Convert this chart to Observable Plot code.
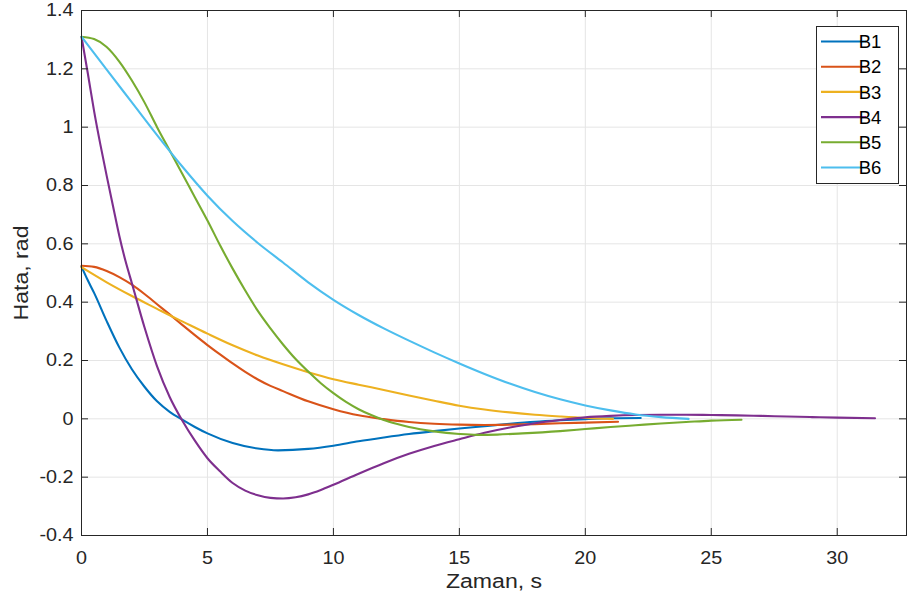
<!DOCTYPE html>
<html>
<head>
<meta charset="utf-8">
<script src="https://cdn.jsdelivr.net/npm/d3@7"></script>
<script src="https://cdn.jsdelivr.net/npm/@observablehq/plot@0.6"></script>
<style>
  html, body { margin: 0; padding: 0; background: #fff; }
  #chart { width: 907px; height: 608px; }
</style>
</head>
<body>
<div id="chart"></div>
<script>
// ---- data ----
const seriesNames = ["B1", "B2", "B3", "B4", "B5", "B6"];
const seriesColors = ["#0072BD", "#D95319", "#EDB120", "#7E2F8E", "#77AC30", "#4DBEEE"];

const b1T = [0, 0.25, 0.5, 1, 1.5, 2, 2.5, 3, 3.5, 4, 4.5, 5, 6, 7, 7.8, 9, 10, 11, 12, 13, 14, 15, 16, 17, 18, 19, 20, 21, 22.2];
const b1V = [0.522, 0.475, 0.432, 0.335, 0.245, 0.17, 0.11, 0.06, 0.024, -0.003, -0.028, -0.05, -0.083, -0.102, -0.108, -0.103, -0.092, -0.077, -0.064, -0.052, -0.042, -0.033, -0.025, -0.017, -0.01, -0.005, -0.001, 0.002, 0.003];

const b2T = [0, 0.5, 1, 1.5, 2, 2.5, 3, 3.5, 4, 4.5, 5, 5.5, 6, 6.5, 7, 7.5, 8, 9, 10, 11, 12, 13, 14, 15, 16, 17, 18, 19, 20, 21.3];
const b2V = [0.525, 0.521, 0.507, 0.486, 0.46, 0.428, 0.393, 0.358, 0.322, 0.287, 0.253, 0.221, 0.19, 0.161, 0.135, 0.113, 0.095, 0.06, 0.033, 0.012, -0.001, -0.011, -0.017, -0.02, -0.021, -0.02, -0.018, -0.015, -0.013, -0.01];

const b3T = [0, 1, 2, 3, 3.5, 4, 5, 6, 7, 8, 9, 10, 11, 12, 13, 14, 15, 16, 17, 18, 19, 20, 21.1];
const b3V = [0.52, 0.468, 0.421, 0.377, 0.355, 0.334, 0.292, 0.252, 0.217, 0.187, 0.16, 0.136, 0.117, 0.099, 0.08, 0.062, 0.045, 0.032, 0.022, 0.014, 0.008, 0.003, 0.0];

const b4T = [0, 0.25, 0.5, 0.75, 1, 1.25, 1.5, 1.75, 2, 2.5, 3, 3.5, 4, 4.5, 5, 5.5, 6, 6.5, 7, 7.5, 8, 8.5, 9, 9.5, 10, 11, 12, 13, 14, 15, 16, 17, 18, 19, 20, 21, 22, 23, 24, 25, 26, 27, 28, 29, 30, 31.5];
const b4V = [1.31, 1.185, 1.055, 0.94, 0.833, 0.73, 0.628, 0.54, 0.465, 0.314, 0.18, 0.075, -0.006, -0.075, -0.135, -0.18, -0.22, -0.246, -0.262, -0.271, -0.273, -0.269, -0.259, -0.244, -0.226, -0.188, -0.152, -0.12, -0.093, -0.07, -0.048, -0.03, -0.015, -0.004, 0.005, 0.01, 0.013, 0.014, 0.014, 0.013, 0.012, 0.01, 0.008, 0.006, 0.004, 0.002];

const b5T = [0, 0.5, 1, 1.5, 2, 2.5, 3, 3.5, 4, 4.5, 5, 5.5, 6, 6.5, 7, 7.5, 8, 8.5, 9, 9.5, 10, 10.5, 11, 11.5, 12, 12.5, 13, 14, 15, 15.7, 16.5, 17.5, 19, 20, 21, 22, 23, 24, 25, 26.2];
const b5V = [1.31, 1.302, 1.275, 1.225, 1.16, 1.085, 1.0, 0.92, 0.84, 0.76, 0.68, 0.595, 0.515, 0.44, 0.37, 0.31, 0.255, 0.205, 0.162, 0.122, 0.088, 0.058, 0.033, 0.013, -0.004, -0.017, -0.028, -0.043, -0.052, -0.055, -0.054, -0.05, -0.042, -0.035, -0.028, -0.022, -0.016, -0.011, -0.006, -0.003];

const b6T = [0, 1, 2, 3, 4, 5, 6, 7, 8, 9, 10, 11, 12, 13, 14, 15, 16, 17, 18, 19, 20, 21, 22, 23, 24.1];
const b6V = [1.31, 1.197, 1.085, 0.973, 0.865, 0.765, 0.678, 0.603, 0.536, 0.468, 0.408, 0.356, 0.31, 0.268, 0.228, 0.19, 0.154, 0.121, 0.092, 0.067, 0.046, 0.029, 0.015, 0.006, 0.0];

const xTicks = [0, 5, 10, 15, 20, 25, 30];
const yTicks = [-0.4, -0.2, 0, 0.2, 0.4, 0.6, 0.8, 1, 1.2, 1.4];
const xLabel = "Zaman, s";
const yLabel = "Hata, rad";

// ---- build table ----
const allT = [b1T, b2T, b3T, b4T, b5T, b6T];
const allV = [b1V, b2V, b3V, b4V, b5V, b6V];
const rows = [];
seriesNames.forEach((name, i) => {
  allT[i].forEach((t, j) => rows.push({series: name, t, v: allV[i][j]}));
});

const W = 907, H = 608;
const mL = 81, mR = 1, mT = 10, mB = 73;
const plotH = H - mT - mB;
const plotW = W - mL - mR;
const tickLen = 7;
const font = "Liberation Sans, Arial, Helvetica, sans-serif";

const chart = Plot.plot({
  width: W,
  height: H,
  marginLeft: mL,
  marginRight: mR,
  marginTop: mT,
  marginBottom: mB,
  style: {fontFamily: font, fontSize: "18.5px", color: "#262626", background: "#fff"},
  x: {domain: [0, 32.75], ticks: xTicks},
  y: {domain: [-0.4, 1.4], ticks: yTicks},
  color: {domain: seriesNames, range: seriesColors},
  marks: [
    Plot.gridX(xTicks, {stroke: "#e5e5e5", strokeOpacity: 1}),
    Plot.gridY(yTicks, {stroke: "#e5e5e5", strokeOpacity: 1}),
    Plot.line(rows, {x: "t", y: "v", z: "series", stroke: "series", strokeWidth: 2.1, curve: "monotone-x"}),
    Plot.frame({stroke: "#262626", strokeWidth: 1}),
    // inward ticks on all four sides
    Plot.tickX(xTicks, {x: d => d, insetTop: plotH - tickLen, stroke: "#262626"}),
    Plot.tickX(xTicks, {x: d => d, insetBottom: plotH - tickLen, stroke: "#262626"}),
    Plot.tickY(yTicks, {y: d => d, insetRight: plotW - tickLen, stroke: "#262626"}),
    Plot.tickY(yTicks, {y: d => d, insetLeft: plotW - tickLen, stroke: "#262626"}),
    Plot.axisX(xTicks, {anchor: "bottom", tickSize: 0, tickPadding: 15, fontSize: 18.5,
      label: xLabel, labelAnchor: "center", labelOffset: 52, labelArrow: "none"}),
    Plot.axisY(yTicks, {anchor: "left", tickSize: 0, tickPadding: 8, fontSize: 18.5,
      tickFormat: d => String(d),
      label: yLabel, labelAnchor: "center", labelOffset: 68, labelArrow: "none"})
  ]
});

document.getElementById("chart").appendChild(chart);

const svg = d3.select(chart);
// slightly wider text as in the reference
svg.selectAll("[aria-label='x-axis tick label'] text, [aria-label='y-axis tick label'] text")
  .each(function() {
    const tr = this.getAttribute("transform") || "";
    this.setAttribute("transform", tr + " scale(1.07,1)");
  });
svg.selectAll("[aria-label='x-axis label'] text, [aria-label='y-axis label'] text")
  .style("font-size", "21px")
  .each(function() {
    const tr = this.getAttribute("transform") || "";
    this.setAttribute("transform", tr + " scale(1.1,1)");
  });

// ---- legend ----
const lg = svg.append("g").attr("font-family", font).attr("font-size", "18.5px");
const lx = 816, ly = 26, lw = 82, lh = 157;
lg.append("rect").attr("x", lx + 0.5).attr("y", ly + 0.5).attr("width", lw).attr("height", lh)
  .attr("fill", "#fff").attr("stroke", "#262626").attr("stroke-width", 1);
seriesNames.forEach((name, i) => {
  const yy = ly + 15.5 + i * 25.2;
  lg.append("line").attr("x1", lx + 5).attr("x2", lx + 50).attr("y1", yy).attr("y2", yy)
    .attr("stroke", seriesColors[i]).attr("stroke-width", 2.1);
  lg.append("text").attr("x", lx + 54).attr("y", yy).attr("dy", "0.36em")
    .attr("fill", "#000").text(name);
});
</script>
</body>
</html>
